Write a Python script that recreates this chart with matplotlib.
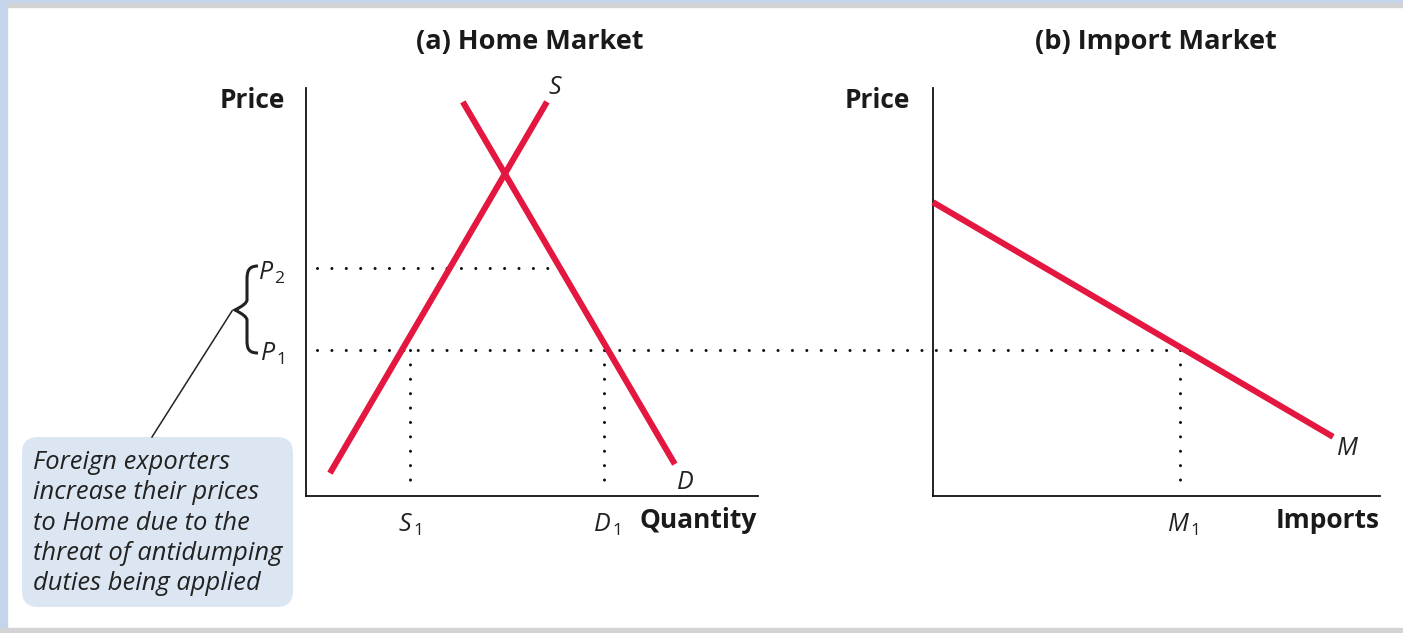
import matplotlib
matplotlib.use("Agg")
import matplotlib.pyplot as plt
from matplotlib.patches import Rectangle, FancyBboxPatch, PathPatch
from matplotlib.path import Path
from matplotlib.transforms import Affine2D

# ---------------- data ----------------
supply_q = [0.53, 5.33]
supply_p = [0.56, 9.66]
demand_q = [3.47, 8.16]
demand_p = [9.66, 0.78]
imports_q = [0.0, 8.95]
imports_p = [7.2, 1.45]
P1 = 3.57
P2 = 5.59
S1 = 2.30
D1 = 6.59
M1 = 5.53
titles = ["(a) Home Market", "(b) Import Market"]
note = "Foreign exporters\nincrease their prices\nto Home due to the\nthreat of antidumping\nduties being applied"

# ---------------- style ----------------
W, H = 1403, 633
RED = "#e3173f"
FONT = "Open Sans"
plt.rcParams["font.family"] = [FONT, "DejaVu Sans"]
plt.rcParams["mathtext.fontset"] = "custom"
plt.rcParams["mathtext.rm"] = FONT
plt.rcParams["mathtext.it"] = FONT + ":italic"

fig = plt.figure(figsize=(W / 100, H / 100), dpi=100)
fig.patch.set_facecolor("white")

def fx(x):
    return x / W

def fy(y):
    return 1 - y / H

# frame bands
fig.patches.append(Rectangle((0, fy(7)), 1, 7 / H, transform=fig.transFigure, color="#d3d3d3", zorder=0))
fig.patches.append(Rectangle((0, fy(2)), 1, 2 / H, transform=fig.transFigure, color="#c4d4ea", zorder=0))
fig.patches.append(Rectangle((0, 0), fx(7), 1, transform=fig.transFigure, color="#c4d4ea", zorder=0))
fig.patches.append(Rectangle((0, 0), 1, 5 / H, transform=fig.transFigure, color="#d3d3d3", zorder=0))

axL = fig.add_axes([fx(306), fy(496), (758 - 306) / W, (496 - 88) / H])
axR = fig.add_axes([fx(933), fy(496), (1380 - 933) / W, (496 - 88) / H])
for ax in (axL, axR):
    ax.set_xlim(0, 10)
    ax.set_ylim(0, 10)
    ax.patch.set_alpha(0)
    for s in ("top", "right"):
        ax.spines[s].set_visible(False)
    for s in ("left", "bottom"):
        ax.spines[s].set_linewidth(1.3)
        ax.spines[s].set_color("#111111")
    ax.set_xticks([])
    ax.set_yticks([])

dot_kw = dict(color="#111111", lw=2.2, linestyle=(0, (0.01, 4.7)),
              dash_capstyle="round", clip_on=False, zorder=2)

# P1 line across both panels
x_end = axL.transData.inverted().transform(axR.transData.transform((M1, P1)))[0]
axL.plot([0.25, x_end], [P1, P1], **dot_kw)
# P2 line to demand curve
q_at_p2 = demand_q[0] + (P2 - demand_p[0]) * (demand_q[1] - demand_q[0]) / (demand_p[1] - demand_p[0])
axL.plot([0.25, q_at_p2], [P2, P2], **dot_kw)
axL.plot([S1, S1], [P1, 0.2], **dot_kw)
axL.plot([D1, D1], [P1, 0.2], **dot_kw)
axR.plot([M1, M1], [P1, 0.2], **dot_kw)

# curves
axL.plot(supply_q, supply_p, color=RED, lw=4.4, solid_capstyle="butt", clip_on=False, zorder=3)
axL.plot(demand_q, demand_p, color=RED, lw=4.4, solid_capstyle="butt", clip_on=False, zorder=3)
axR.plot(imports_q, imports_p, color=RED, lw=4.4, solid_capstyle="butt", clip_on=False, zorder=3)

lab = dict(fontsize=18, color="#222222", clip_on=False)
sub = r"$\mathit{%s}_{\,\mathrm{%s}}$"
axL.annotate(sub % ("S", "1"), xy=(S1, 0), xytext=(0, -29), textcoords="offset pixels", ha="center", va="center", **lab)
axL.annotate(sub % ("D", "1"), xy=(D1, 0), xytext=(3, -29), textcoords="offset pixels", ha="center", va="center", **lab)
axR.annotate(sub % ("M", "1"), xy=(M1, 0), xytext=(3, -29), textcoords="offset pixels", ha="center", va="center", **lab)
axL.annotate(sub % ("P", "2"), xy=(0, P2), xytext=(-34, -5), textcoords="offset pixels", ha="center", va="center", **lab)
axL.annotate(sub % ("P", "1"), xy=(0, P1), xytext=(-34, -4), textcoords="offset pixels", ha="center", va="center", **lab)
axL.annotate("S", xy=(supply_q[1], supply_p[1]), xytext=(8, 14), textcoords="offset pixels", ha="center", va="center", style="italic", **lab)
axL.annotate("D", xy=(demand_q[1], demand_p[1]), xytext=(10, -18), textcoords="offset pixels", ha="center", va="center", style="italic", **lab)
axR.annotate("M", xy=(imports_q[1], imports_p[1]), xytext=(14, -12), textcoords="offset pixels", ha="center", va="center", style="italic", **lab)

bold = dict(fontsize=19.5, fontweight="bold", color="#1a1a1a", ha="center", va="center")
fig.text(fx(530), fy(42), titles[0], **bold)
fig.text(fx(1156), fy(42), titles[1], **bold)
bold["fontsize"] = 19
fig.text(fx(252), fy(101), "Price", **bold)
fig.text(fx(877), fy(101), "Price", **bold)
fig.text(fx(698), fy(521), "Quantity", **bold)
fig.text(fx(1328), fy(521), "Imports", **bold)

# note box
pix = Affine2D().scale(1, -1).translate(0, H)
box = FancyBboxPatch((22, 437), 271, 170, boxstyle="round,pad=0,rounding_size=16",
                     transform=pix, facecolor="#dce6f2", edgecolor="none", zorder=1)
fig.patches.append(box)
fig.text(fx(33), fy(523), note, fontsize=18.4, style="italic", color="#222222",
         ha="left", va="center", linespacing=1.27)

# leader line
fig.lines.append(plt.Line2D([152, 232], [437, 311], transform=pix, color="#222222", lw=1.1))

# brace
verts = [(258, 266), (248, 266), (247, 272), (247, 280),
         (247, 300), (247, 304), (235, 310),
         (247, 316), (247, 320), (247, 340),
         (247, 348), (248, 353), (258, 353)]
codes = [Path.MOVETO, Path.CURVE4, Path.CURVE4, Path.CURVE4,
         Path.LINETO, Path.CURVE3, Path.CURVE3,
         Path.CURVE3, Path.CURVE3, Path.LINETO,
         Path.CURVE4, Path.CURVE4, Path.CURVE4]
fig.patches.append(PathPatch(Path(verts, codes), transform=pix, facecolor="none",
                             edgecolor="#222222", lw=2.2))

fig.savefig("out.png", dpi=100)
